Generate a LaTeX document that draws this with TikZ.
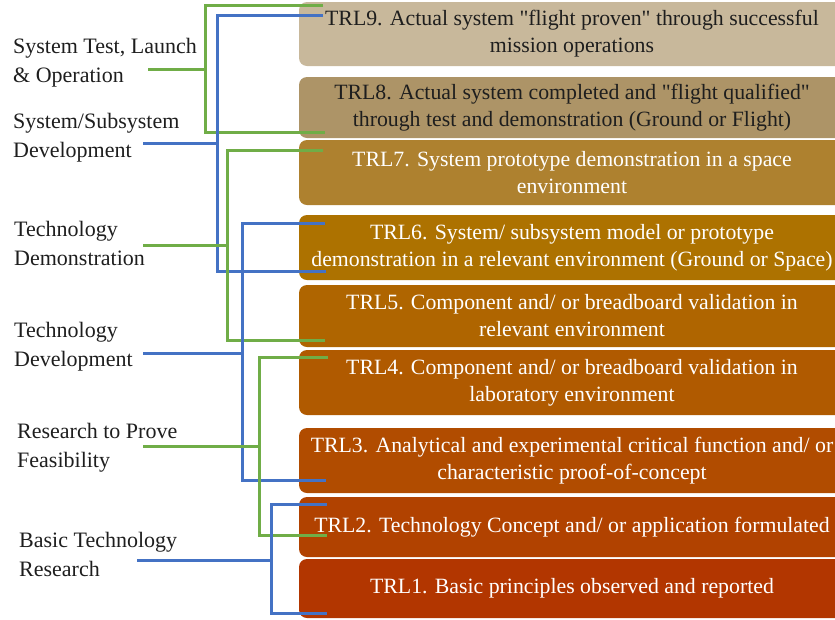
\documentclass[tikz,border=0pt]{standalone}
\usepackage{fontspec}
\setmainfont{Liberation Serif}[Ligatures=TeXOff]
\definecolor{c9}{HTML}{C8B89B}
\definecolor{c8}{HTML}{AD9467}
\definecolor{c7}{HTML}{AE812F}
\definecolor{c6}{HTML}{AD7200}
\definecolor{c5}{HTML}{AF6500}
\definecolor{c4}{HTML}{B05A00}
\definecolor{c3}{HTML}{B14C00}
\definecolor{c2}{HTML}{B14200}
\definecolor{c1}{HTML}{B23600}
\definecolor{lgreen}{HTML}{70AD47}
\definecolor{lblue}{HTML}{4472C4}
\definecolor{txtdark}{HTML}{1E1E1E}
\begin{document}
\begin{tikzpicture}[x=1pt,y=-1pt,
  box/.style={rounded corners=8pt, inner sep=0pt, minimum width=546pt, draw=none,
    align=center, font=\fontsize{21.8}{27}\selectfont, text=white},
  lbl/.style={align=left, anchor=west, font=\fontsize{22}{29}\selectfont, inner sep=0pt, text=txtdark},
  gline/.style={draw=lgreen, line width=3pt},
  bline/.style={draw=lblue, line width=3pt}]
\useasboundingbox (0,0) rectangle (835,619);

% boxes with texts
\node[box, fill=c9, minimum height=64pt, text=txtdark] (b9) at (572,34) {TRL9. Actual system "flight proven" through successful\\mission operations};
\node[box, fill=c8, minimum height=61pt, text=txtdark] (b8) at (572,107.5) {TRL8. Actual system completed and "flight qualified"\\through test and demonstration (Ground or Flight)};
\node[box, fill=c7, minimum height=65pt] (b7) at (572,172.5) {TRL7. System prototype demonstration in a space\\environment};
\node[box, fill=c6, minimum height=65pt] (b6) at (572,247.5) {TRL6. System/ subsystem model or prototype\\demonstration in a relevant environment (Ground or Space)};
\node[box, fill=c5, minimum height=62pt] (b5) at (572,316) {TRL5. Component and/ or breadboard validation in\\relevant environment};
\node[box, fill=c4, minimum height=65pt] (b4) at (572,382.5) {TRL4. Component and/ or breadboard validation in\\laboratory environment};
\node[box, fill=c3, minimum height=65pt] (b3) at (572,460.5) {TRL3. Analytical and experimental critical function and/ or\\characteristic proof-of-concept};
\node[box, fill=c2, minimum height=60pt] (b2) at (572,527) {TRL2. Technology Concept and/ or application formulated};
\node[box, fill=c1, minimum height=59pt] (b1) at (572,588.5) {TRL1. Basic principles observed and reported};

% labels
\node[lbl] (l1) at (13,63) {System Test, Launch\\\& Operation};
\node[lbl] (l2) at (13,138) {System/Subsystem\\Development};
\node[lbl] (l3) at (14,243) {Technology\\Demonstration};
\node[lbl] (l4) at (14,346.5) {Technology\\Development};
\node[lbl] (l5) at (17,448) {Research to Prove\\Feasibility};
\node[lbl] (l6) at (19,554) {Basic Technology\\Research};

% bracket coordinates
\coordinate (g1a) at (323,5);   \coordinate (g1b) at (205,5);
\coordinate (g1c) at (205,132); \coordinate (g1d) at (325,132);
\coordinate (g1s) at (148,69);
\coordinate (b1a) at (323,15);  \coordinate (b1b) at (217,15);
\coordinate (b1c) at (217,271); \coordinate (b1d) at (326,271);
\coordinate (b1s) at (143,143);
\coordinate (g2a) at (323,150); \coordinate (g2b) at (227,150);
\coordinate (g2c) at (227,340); \coordinate (g2d) at (325,340);
\coordinate (g2s) at (143,245);
\coordinate (b2a) at (325,223); \coordinate (b2b) at (242,223);
\coordinate (b2c) at (242,480); \coordinate (b2d) at (326,480);
\coordinate (b2s) at (143,353);
\coordinate (g3a) at (328,357); \coordinate (g3b) at (259,357);
\coordinate (g3c) at (259,535); \coordinate (g3d) at (327,535);
\coordinate (g3s) at (143,446);
\coordinate (b3a) at (327,504); \coordinate (b3b) at (271,504);
\coordinate (b3c) at (271,613); \coordinate (b3d) at (327,613);
\coordinate (b3s) at (137,560);

% brackets
\draw[gline] (g1a) -- (g1b) -- (g1c) -- (g1d);
\draw[gline] (g1s) -- (g1s -| g1b);
\draw[bline] (b1a) -- (b1b) -- (b1c) -- (b1d);
\draw[bline] (b1s) -- (b1s -| b1b);
\draw[gline] (g2a) -- (g2b) -- (g2c) -- (g2d);
\draw[gline] (g2s) -- ([xshift=2pt]g2s -| g2b);
\draw[bline] (b2a) -- (b2b) -- (b2c) -- (b2d);
\draw[bline] (b2s) -- (b2s -| b2b);
\draw[gline] (g3a) -- (g3b) -- (g3c) -- (g3d);
\draw[gline] (g3s) -- (g3s -| g3b);
\draw[bline] (b3a) -- (b3b) -- (b3c) -- (b3d);
\draw[bline] (b3s) -- (b3s -| b3b);
\end{tikzpicture}
\end{document}
